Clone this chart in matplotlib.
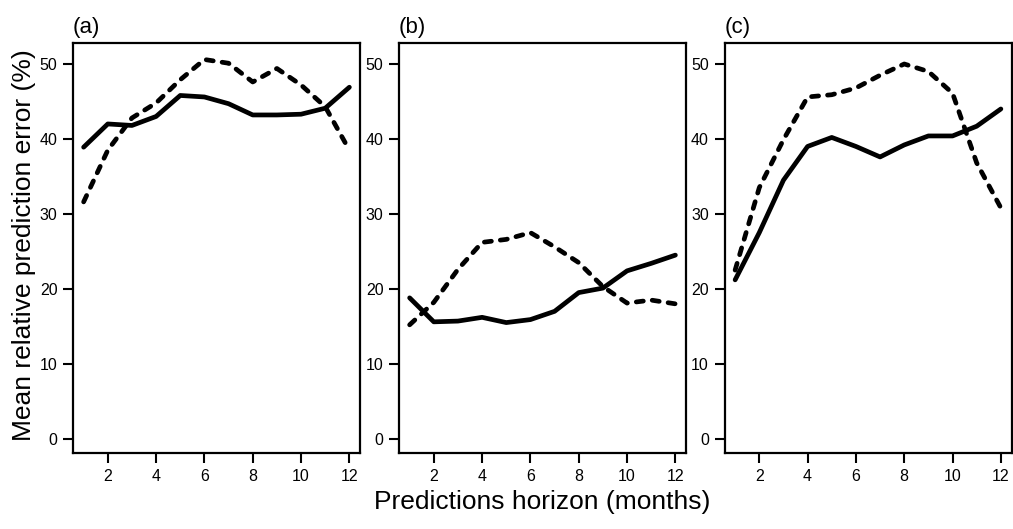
import numpy as np
import matplotlib
matplotlib.use("Agg")
import matplotlib.pyplot as plt

plt.rcParams['font.family'] = ['Liberation Sans', 'DejaVu Sans']

months = np.arange(1, 13)

# panel (a)
a_solid = [38.9, 42.0, 41.8, 43.0, 45.8, 45.6, 44.7, 43.2, 43.2, 43.3, 44.1, 46.9]
a_dash = [31.6, 38.5, 42.8, 44.8, 47.9, 50.6, 50.1, 47.6, 49.4, 47.2, 44.3, 38.5]
# panel (b)
b_solid = [18.8, 15.6, 15.7, 16.2, 15.5, 15.9, 17.0, 19.5, 20.1, 22.4, 23.4, 24.5]
b_dash = [15.2, 18.2, 22.6, 26.2, 26.6, 27.5, 25.6, 23.5, 20.3, 18.1, 18.5, 18.0]
# panel (c)
c_solid = [21.2, 27.5, 34.5, 39.0, 40.2, 39.0, 37.6, 39.2, 40.4, 40.4, 41.7, 44.0]
c_dash = [22.5, 33.5, 39.9, 45.6, 45.9, 46.8, 48.5, 50.0, 49.0, 46.1, 36.8, 30.8]

panels = ["(a)", "(b)", "(c)"]
solids = [a_solid, b_solid, c_solid]
dashes = [a_dash, b_dash, c_dash]

xticks = [2, 4, 6, 8, 10, 12]
yticks = [0, 10, 20, 30, 40, 50]

W, H = 1013, 529
fig = plt.figure(figsize=(W / 100, H / 100), dpi=100)

lefts = [73, 399, 724.5]
ax_w = 287
ax_top, ax_bot = 43, 453

for i in range(3):
    ax = fig.add_axes([lefts[i] / W, 1 - ax_bot / H, ax_w / W, (ax_bot - ax_top) / H])
    ax.plot(months, solids[i], color='black', lw=3.4, solid_capstyle='round',
            solid_joinstyle='round')
    ax.plot(months, dashes[i], color='black', lw=3.4, linestyle=(0, (1.5, 1.9)),
            dash_capstyle='round', dash_joinstyle='round')
    ax.set_xlim(0.56, 12.44)
    ax.set_ylim(-1.9, 52.8)
    ax.set_xticks(xticks)
    ax.set_yticks(yticks)
    ax.tick_params(direction='out', length=7.2, width=1.5, labelsize=11.5, pad=4)
    for s in ax.spines.values():
        s.set_linewidth(1.6)
    ax.text(0, 1 + 10 / (ax_bot - ax_top), panels[i], transform=ax.transAxes,
            fontsize=16, ha='left', va='baseline')

fig.text(24 / W, 1 - 245 / H, "Mean relative prediction error (%)", rotation=90,
         fontsize=19, ha='center', va='center')
fig.text(542 / W, 1 - 502 / H, "Predictions horizon (months)",
         fontsize=19, ha='center', va='center')

fig.savefig("out.png", dpi=100)
